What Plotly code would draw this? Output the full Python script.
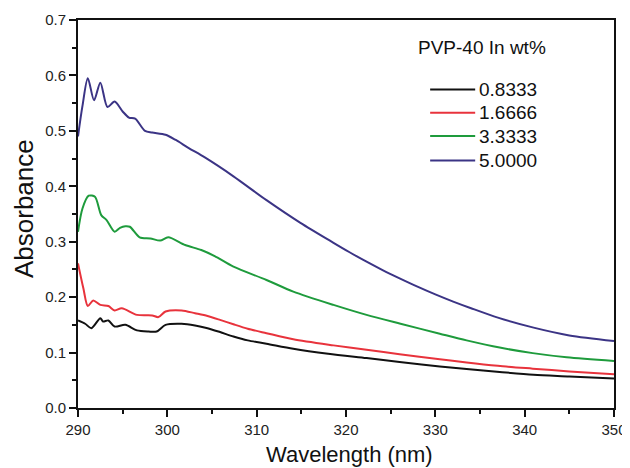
import plotly.graph_objects as go

# Series 0.8333 wt% (black)
wl_0833 = [290.0, 290.8, 291.5, 292.5, 292.8, 293.4, 294.1, 295.3, 296.6, 297.9, 298.8, 299.8,
           301.6, 303.1, 304.5, 305.9, 307.4, 309.0, 311.1, 314.1, 318.0, 322.3, 326.0, 330.5,
           337.2, 341.0, 345.0, 350.0]
abs_0833 = [0.158, 0.152, 0.144, 0.162, 0.156, 0.158, 0.147, 0.150, 0.140, 0.138, 0.138, 0.150,
            0.152, 0.149, 0.144, 0.137, 0.129, 0.122, 0.116, 0.107, 0.098, 0.090, 0.083, 0.075,
            0.065, 0.060, 0.057, 0.053]

# Series 1.6666 wt% (red)
wl_1666 = [290.0, 290.6, 291.1, 291.7, 292.5, 293.4, 294.1, 294.9, 296.6, 298.3, 299.0, 299.8,
           301.6, 303.1, 304.5, 305.9, 307.4, 309.0, 311.1, 314.1, 318.6, 322.3, 326.0, 330.5,
           333.5, 337.0, 340.9, 345.0, 350.0]
abs_1666 = [0.261, 0.216, 0.184, 0.194, 0.186, 0.184, 0.176, 0.180, 0.168, 0.167, 0.164, 0.174,
            0.176, 0.171, 0.166, 0.159, 0.151, 0.143, 0.135, 0.124, 0.113, 0.105, 0.097, 0.088,
            0.082, 0.076, 0.071, 0.066, 0.061]

# Series 3.3333 wt% (green)
wl_3333 = [290.0, 290.5, 291.2, 291.9, 292.6, 293.2, 294.1, 294.7, 295.3, 295.8, 296.9, 298.1, 299.2,
           300.1, 302.0, 303.8, 305.3, 307.4, 311.1, 314.1, 318.6, 322.3, 326.1, 330.5, 333.5, 337.2,
           340.9, 344.7, 350.0]
abs_3333 = [0.318, 0.360, 0.383, 0.381, 0.348, 0.339, 0.318, 0.325, 0.328, 0.327, 0.308, 0.306, 0.302,
            0.308, 0.294, 0.285, 0.274, 0.255, 0.231, 0.210, 0.186, 0.168, 0.152, 0.134, 0.122, 0.109,
            0.099, 0.0915, 0.085]

# Series 5.0000 wt% (purple)
wl_5000 = [290.0, 290.5, 291.1, 291.8, 292.5, 293.3, 294.1, 295.0, 295.7, 296.4, 297.5, 298.3, 299.8,
           300.9, 302.4, 304.2, 307.4, 311.1, 314.9, 318.6, 320.4, 322.3, 324.2, 326.0, 328.0, 330.0,
           332.0, 334.0, 337.0, 341.0, 345.0, 350.0]
abs_5000 = [0.490, 0.545, 0.595, 0.555, 0.587, 0.543, 0.553, 0.535, 0.524, 0.522, 0.500, 0.497, 0.493,
            0.484, 0.469, 0.452, 0.418, 0.375, 0.334, 0.298, 0.281, 0.264, 0.248, 0.234, 0.219, 0.205,
            0.192, 0.180, 0.163, 0.145, 0.131, 0.121]

series_names = ["0.8333", "1.6666", "3.3333", "5.0000"]
series_x = [wl_0833, wl_1666, wl_3333, wl_5000]
series_y = [abs_0833, abs_1666, abs_3333, abs_5000]
colors = ["#111111", "#e8333c", "#1e9b3c", "#3b3485"]

x_ticks = [290, 300, 310, 320, 330, 340, 350]
y_ticks = [0.0, 0.1, 0.2, 0.3, 0.4, 0.5, 0.6, 0.7]
legend_title = "PVP-40 In wt%"

fig = go.Figure()
for name, xs, ys, c in zip(series_names, series_x, series_y, colors):
    fig.add_trace(go.Scatter(x=xs, y=ys, mode="lines", name=name, showlegend=False,
                             line=dict(color=c, width=2, shape="spline", smoothing=0.8)))

font_family = "Liberation Sans, Arial, sans-serif"

# Legend drawn as line samples + text (matches the reference's long samples and spacing)
shapes = []
annotations = []
leg_y = [0.821, 0.761, 0.701, 0.638]
for name, c, yy in zip(series_names, colors, leg_y):
    shapes.append(dict(type="line", xref="paper", yref="paper", x0=0.657, x1=0.741, y0=yy, y1=yy,
                       line=dict(color=c, width=2)))
    annotations.append(dict(text=name, x=0.744, y=yy, xref="paper", yref="paper", xanchor="left",
                            yanchor="middle", showarrow=False, font=dict(size=19, color="#111111")))
annotations.append(dict(text=legend_title, x=0.753, y=0.928, xref="paper", yref="paper",
                        xanchor="center", yanchor="middle", showarrow=False,
                        font=dict(size=19, color="#111111")))
annotations.append(dict(text="Absorbance", x=-0.101, y=0.515, xref="paper", yref="paper",
                        xanchor="center", yanchor="middle", textangle=-90, showarrow=False,
                        font=dict(size=26, color="#111111")))
annotations.append(dict(text="Wavelength (nm)", x=0.507, y=-0.121, xref="paper", yref="paper",
                        xanchor="center", yanchor="middle", showarrow=False,
                        font=dict(size=22, color="#111111")))

# The page body adds an 8px offset, so margins are shifted to keep the plot area where the reference has it
fig.update_layout(
    width=630, height=468,
    margin=dict(l=70, r=24, t=12, b=68),
    paper_bgcolor="white", plot_bgcolor="white",
    font=dict(family=font_family, color="#111111"),
    showlegend=False,
    shapes=shapes,
    annotations=annotations,
)

fig.update_xaxes(
    range=[290, 350], tickvals=x_ticks, ticktext=[str(v) for v in x_ticks],
    showline=True, linecolor="#111111", linewidth=2, mirror=True,
    ticks="outside", ticklen=7, tickwidth=2, tickcolor="#111111",
    minor=dict(dtick=5, ticks="outside", ticklen=4, tickwidth=2, tickcolor="#111111"),
    showgrid=False, zeroline=False, automargin=False,
    tickfont=dict(size=15, color="#222222"),
)
fig.update_yaxes(
    range=[0, 0.7], tickvals=y_ticks, ticktext=[f"{v:.1f}" for v in y_ticks],
    showline=True, linecolor="#111111", linewidth=2, mirror=True,
    ticks="outside", ticklen=7, tickwidth=2, tickcolor="#111111",
    minor=dict(dtick=0.05, ticks="outside", ticklen=4, tickwidth=2, tickcolor="#111111"),
    showgrid=False, zeroline=False, automargin=False,
    tickfont=dict(size=15, color="#222222"),
)

fig.write_html("out.html")
